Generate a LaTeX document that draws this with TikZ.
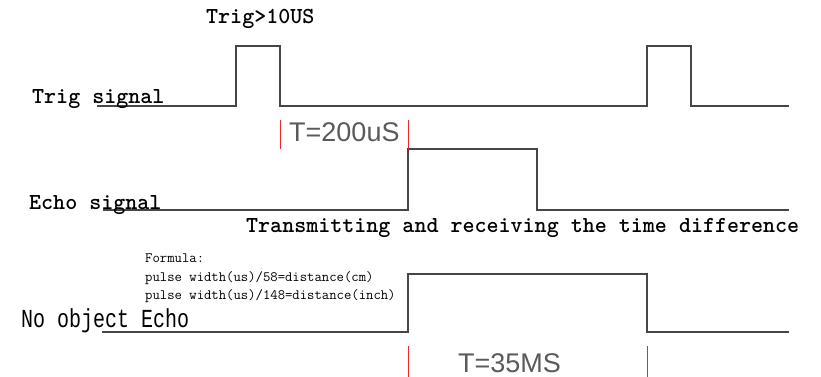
\documentclass[tikz,border=0pt]{standalone}
\usepackage{fontspec}
\setmainfont{Liberation Serif}
\newfontfamily\monof{Liberation Mono}
\newfontfamily\sansf{Liberation Sans}
\definecolor{sig}{RGB}{70,70,70}
\definecolor{mark}{RGB}{235,40,40}
\definecolor{lbl}{RGB}{90,90,90}
\begin{document}
\begin{tikzpicture}[x=1pt,y=-1pt,
  wave/.style={draw=sig,line width=1.3pt,line join=miter},
  tick/.style={draw=mark,line width=1pt},
  big/.style={inner sep=0pt,anchor=base west,font=\ttfamily\fontsize{22.9}{23}\selectfont},
  bigsans/.style={inner sep=0pt,anchor=base west,font=\monof\fontsize{20}{20}\selectfont},
  small/.style={inner sep=0pt,anchor=base west,font=\ttfamily\fontsize{14.3}{14.3}\selectfont},
  meas/.style={inner sep=0pt,anchor=base west,text=lbl,font=\sansf\fontsize{27}{27}\selectfont}]
\useasboundingbox (0,0) rectangle (821,377);
% waves
\draw[wave] (97,106) -- (236,106) -- (236,46) -- (280,46) -- (280,106) -- (647,106) -- (647,46) -- (691,46) -- (691,106) -- (789,106);
\draw[wave] (103,210) -- (408,210) -- (408,149) -- (537,149) -- (537,210) -- (789,210);
\draw[wave] (102,332) -- (408,332) -- (408,274) -- (647,274) -- (647,332) -- (789,332);
% red marks
\draw[tick] (280,120) -- (280,149);
\draw[tick] (408,120) -- (408,149);
\draw[tick] (408,346) -- (408,377);
\draw[tick] (647,346) -- (647,377);
% labels
\node[big] (t1) at (206,24) {\textbf{Trig>10US}};
\node[big] (t2) at (32,103) {\textbf{Trig signal}};
\node[big] (t3) at (29,209) {\textbf{Echo signal}};
\node[big] (t4) at (246,232) {\textbf{Transmitting and receiving the time difference}};
\node[bigsans] (t5) at (21,327) {\scalebox{1}[1.3]{No object Echo}};
\node[small] (f1) at (145,262) {Formula:};
\node[small] (f2) at (145,281) {pulse width(us)/58=distance(cm)};
\node[small] (f3) at (145,299) {pulse width(us)/148=distance(inch)};
\node[meas] (m1) at (289,142) {T=200uS};
\node[meas] (m2) at (458,372) {T=35MS};
\end{tikzpicture}
\end{document}
